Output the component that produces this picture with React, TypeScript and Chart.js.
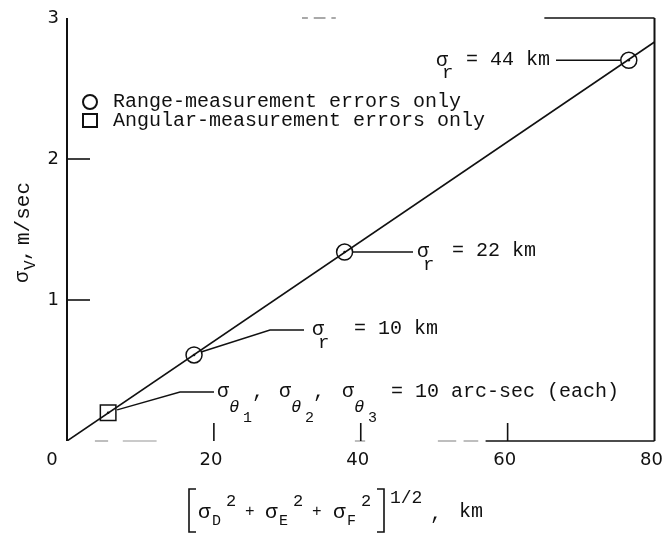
import React, { useEffect, useRef } from "react";
import { Chart, registerables } from "chart.js";

Chart.register(...registerables);

// Velocity error against combined position error
const lineX = [0, 80];
const lineY = [0, 2.83];

// Range-measurement-only cases (sigma_r = 10, 22, 44 km)
const rangeX = [17.3, 37.8, 76.5];
const rangeY = [0.61, 1.34, 2.7];
const rangeSigma = ["10", "22", "44"];

// Angular-measurement-only case (10 arc-sec each)
const angularX = [5.6];
const angularY = [0.2];

const xTicks = [0, 20, 40, 60, 80];
const yTicks = [0, 1, 2, 3];

const MONO = '"Liberation Mono", "DejaVu Sans Mono", monospace';
const SANS = '"DejaVu Sans", "Liberation Sans", sans-serif';
const INK = "#111111";

type Ctx = CanvasRenderingContext2D;

function text(ctx: Ctx, s: string, x: number, y: number, size: number, align: CanvasTextAlign = "left", font = MONO) {
  ctx.font = `${size}px ${font}`;
  ctx.textAlign = align;
  ctx.textBaseline = "middle";
  ctx.fillText(s, x, y);
}

function poly(ctx: Ctx, pts: number[][], width = 1.4) {
  ctx.beginPath();
  ctx.moveTo(pts[0][0], pts[0][1]);
  for (let i = 1; i < pts.length; i++) ctx.lineTo(pts[i][0], pts[i][1]);
  ctx.lineWidth = width;
  ctx.strokeStyle = INK;
  ctx.stroke();
}

// sigma with a subscript, followed by the rest of the label
function sigmaLabel(ctx: Ctx, x: number, y: number, sub: string, rest: string, restDx: number) {
  text(ctx, "σ", x, y, 20);
  text(ctx, sub, x + 6, y + 13, 19);
  text(ctx, rest, x + restDx, y - 1, 20);
}

const framePlugin = {
  id: "frame",
  beforeDraw(chart: any) {
    const { ctx, width, height } = chart;
    ctx.save();
    ctx.fillStyle = "#ffffff";
    ctx.fillRect(0, 0, width, height);
    ctx.restore();
  },
  beforeDatasetsDraw(chart: any) {
    const { ctx, chartArea: a, scales } = chart;
    const xs = scales.x;
    const ys = scales.y;
    ctx.save();
    ctx.lineCap = "butt";
    // left and right frame lines
    poly(ctx, [[a.left, a.top], [a.left, a.bottom]], 2);
    poly(ctx, [[a.right, a.top], [a.right, a.bottom]], 2);
    // faded top and bottom frame pieces
    const segs = (ranges: number[][], y: number, w: number, alpha: number) => {
      ctx.globalAlpha = alpha;
      ranges.forEach((r) => poly(ctx, [[xs.getPixelForValue(r[0]), y], [xs.getPixelForValue(r[1]), y]], w));
      ctx.globalAlpha = 1;
    };
    segs([[65, 80]], a.top, 1.6, 1);
    segs([[32, 32.8], [33.6, 35.2], [36, 36.6]], a.top, 1.2, 0.6);
    segs([[57, 80]], a.bottom, 1.6, 1);
    segs([[3.8, 5.6], [7.6, 12.2], [39.2, 40.6], [50.5, 53], [54, 56]], a.bottom, 1.2, 0.45);

    // inward ticks
    yTicks.slice(1, 3).forEach((v) => {
      const py = ys.getPixelForValue(v);
      poly(ctx, [[a.left, py], [a.left + 23, py]], 1.6);
    });
    xTicks.slice(1, 4).forEach((v) => {
      const px = xs.getPixelForValue(v);
      poly(ctx, [[px, a.bottom], [px, a.bottom - 18]], 1.6);
    });

    // leader lines from the markers to their labels
    const rm = chart.getDatasetMeta(1).data;
    const am = chart.getDatasetMeta(2).data;
    const p10 = rm[0], p22 = rm[1], p44 = rm[2], pa = am[0];
    poly(ctx, [[p44.x - 8, p44.y], [556, p44.y]]);
    poly(ctx, [[p22.x + 8, p22.y], [413, p22.y]]);
    poly(ctx, [[p10.x + 7, p10.y - 3], [270, 330], [304, 330]]);
    poly(ctx, [[pa.x + 9, pa.y - 3], [180, 392], [214, 392]]);
    ctx.restore();
  },
  afterDatasetsDraw(chart: any) {
    const { ctx, chartArea: a, scales } = chart;
    const xs = scales.x;
    const ys = scales.y;
    ctx.save();
    ctx.fillStyle = INK;

    // centre dots in the markers
    [1, 2].forEach((i) =>
      chart.getDatasetMeta(i).data.forEach((el: any) => {
        ctx.beginPath();
        ctx.arc(el.x, el.y, 1.3, 0, Math.PI * 2);
        ctx.fill();
      })
    );

    // tick labels
    yTicks.slice(1).forEach((v) => text(ctx, String(v), a.left - 8, ys.getPixelForValue(v), 18, "right", SANS));
    xTicks.forEach((v) => {
      const px = xs.getPixelForValue(v) - (v === 0 ? 15 : 3);
      text(ctx, String(v), px, a.bottom + 19, 18, "center", SANS);
    });

    // point labels
    const rm = chart.getDatasetMeta(1).data;
    sigmaLabel(ctx, 436, rm[2].y, "r", `= ${rangeSigma[2]} km`, 30);
    sigmaLabel(ctx, 417, rm[1].y, "r", `= ${rangeSigma[1]} km`, 35);
    sigmaLabel(ctx, 312, 330, "r", `= ${rangeSigma[0]} km`, 42);

    // angular label: sigma_theta1, sigma_theta2, sigma_theta3
    const ty = 392;
    [[217, "1"], [279, "2"], [342, "3"]].forEach(([x, n]: any) => {
      text(ctx, "σ", x, ty, 20);
      ctx.font = `italic 17px ${MONO}`;
      ctx.fillText("θ", x + 12, ty + 15);
      text(ctx, n, x + 26, ty + 26, 15);
    });
    text(ctx, ",", 252, ty, 20);
    text(ctx, ",", 313, ty, 20);
    text(ctx, "= 10 arc-sec (each)", 391, ty, 20);

    // legend
    ctx.lineWidth = 2;
    ctx.strokeStyle = INK;
    ctx.beginPath();
    ctx.arc(90, 102, 7, 0, Math.PI * 2);
    ctx.stroke();
    ctx.strokeRect(83, 114, 14, 13);
    text(ctx, "Range-measurement errors only", 113, 102, 20);
    text(ctx, "Angular-measurement errors only", 113, 121, 20);

    // y-axis title
    ctx.save();
    ctx.translate(23, 283);
    ctx.rotate(-Math.PI / 2);
    text(ctx, "σ", 0, 0, 20);
    text(ctx, "V", 13, 8, 16);
    text(ctx, ",", 22, 0, 20);
    text(ctx, "m/sec", 38, 0, 21);
    ctx.restore();

    // x-axis title: [sD^2 + sE^2 + sF^2]^(1/2), km
    const by0 = 489, by1 = 532;
    poly(ctx, [[196, by0], [189, by0], [189, by1], [196, by1]], 1.6);
    poly(ctx, [[377, by0], [384, by0], [384, by1], [377, by1]], 1.6);
    const row = 512;
    [[198, "D"], [265, "E"], [333, "F"]].forEach(([x, s]: any) => {
      text(ctx, "σ", x, row, 21);
      text(ctx, s, x + 14, row + 9, 15);
      text(ctx, "2", x + 28, row - 11, 17);
    });
    text(ctx, "+", 245, row, 16);
    text(ctx, "+", 312, row, 16);
    text(ctx, "1/2", 390, row - 14, 18);
    text(ctx, ",", 430, row + 2, 20);
    text(ctx, "km", 459, row, 20);
    ctx.restore();
  },
};

export default function App() {
  const ref = useRef<HTMLCanvasElement>(null);

  useEffect(() => {
    if (!ref.current) return;
    const chart = new Chart(ref.current, {
      type: "scatter",
      data: {
        datasets: [
          {
            data: lineX.map((x, i) => ({ x, y: lineY[i] })),
            showLine: true,
            borderColor: INK,
            borderWidth: 1.6,
            pointRadius: 0,
          },
          {
            data: rangeX.map((x, i) => ({ x, y: rangeY[i] })),
            pointStyle: "circle",
            pointRadius: 8,
            backgroundColor: "#ffffff",
            borderColor: INK,
            borderWidth: 1.5,
          },
          {
            data: angularX.map((x, i) => ({ x, y: angularY[i] })),
            pointStyle: "rect",
            pointRadius: 11,
            backgroundColor: "#ffffff",
            borderColor: INK,
            borderWidth: 1.5,
          },
        ],
      },
      options: {
        responsive: false,
        animation: false,
        events: [],
        layout: { padding: { left: 67, right: 12, top: 18, bottom: 92 } },
        plugins: { legend: { display: false }, tooltip: { enabled: false } },
        scales: {
          x: { type: "linear", min: 0, max: 80, display: false },
          y: { type: "linear", min: 0, max: 3, display: false },
        },
      },
      plugins: [framePlugin],
    });
    return () => chart.destroy();
  }, []);

  return (
    <div style={{ position: "fixed", left: 0, top: 0, width: 667, height: 533, background: "#fff" }}>
      <canvas ref={ref} width={667} height={533} />
    </div>
  );
}
